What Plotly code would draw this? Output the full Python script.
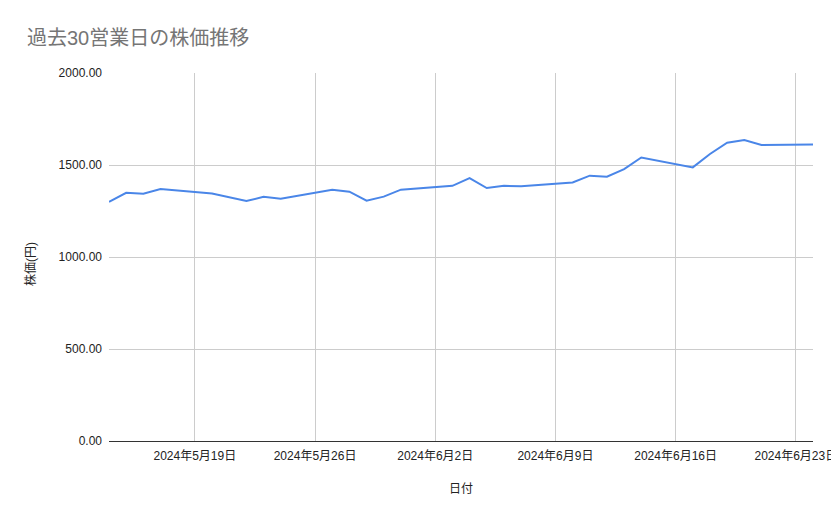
import plotly.graph_objects as go

# 30 business days, 2024-05-14 .. 2024-06-24
dates = [
    "2024-05-14", "2024-05-15", "2024-05-16", "2024-05-17",
    "2024-05-20", "2024-05-21", "2024-05-22", "2024-05-23", "2024-05-24",
    "2024-05-27", "2024-05-28", "2024-05-29", "2024-05-30", "2024-05-31",
    "2024-06-03", "2024-06-04", "2024-06-05", "2024-06-06", "2024-06-07",
    "2024-06-10", "2024-06-11", "2024-06-12", "2024-06-13", "2024-06-14",
    "2024-06-17", "2024-06-18", "2024-06-19", "2024-06-20", "2024-06-21",
    "2024-06-24",
]
prices = [
    1300, 1349, 1344, 1369,
    1345, 1325, 1304, 1327, 1317,
    1366, 1355, 1306, 1328, 1366,
    1387, 1429, 1375, 1387, 1384,
    1405, 1442, 1436, 1478, 1541,
    1487, 1560, 1621, 1636, 1609,
    1612,
]

title_text = "過去30営業日の株価推移"
x_title = "日付"
y_title = "株価(円)"

font_family = "Arial, 'Liberation Sans', 'Noto Sans CJK JP', sans-serif"

fig = go.Figure()

fig.add_trace(go.Scatter(
    x=dates,
    y=prices,
    mode="lines",
    line=dict(color="#4a86e8", width=2),
    showlegend=False,
))

# y axis title sits a little below the middle, so put it in by hand
fig.add_annotation(
    text=y_title,
    xref="paper", x=(30 - 109) / 704, xanchor="center",
    yref="paper", y=(441 - 264) / 368, yanchor="middle",
    textangle=-90,
    showarrow=False,
    font=dict(size=12, color="#222222"),
)

# page has an 8px body margin, so the figure is a bit smaller
fig.update_layout(
    template="none",
    width=831,
    height=511,
    margin=dict(l=101, r=26, t=65, b=78, pad=0),
    paper_bgcolor="white",
    plot_bgcolor="white",
    font=dict(family=font_family, color="#222222", size=12),
    title=dict(
        text=title_text,
        font=dict(family=font_family, size=20, color="#757575"),
        xref="container", x=19 / 831, xanchor="left",
        yref="container", y=1 - 30 / 511, yanchor="middle",
    ),
    xaxis=dict(
        type="date",
        range=["2024-05-14", "2024-06-24"],
        tick0="2024-05-19",
        dtick=7 * 24 * 3600 * 1000,
        tickformat="%Y年%-m月%-d日",
        showgrid=True,
        gridcolor="#cccccc",
        gridwidth=1,
        showline=True,
        linecolor="#333333",
        linewidth=1,
        ticks="",
        ticklabelstandoff=4,
        tickfont=dict(size=12, color="#222222"),
        title=dict(text=x_title, font=dict(size=12, color="#222222"), standoff=22),
        zeroline=False,
    ),
    yaxis=dict(
        range=[0, 2000],
        dtick=500,
        tickformat=".2f",
        showgrid=True,
        gridcolor="#cccccc",
        gridwidth=1,
        showline=False,
        ticks="",
        ticklabelstandoff=6,
        zeroline=False,
        tickfont=dict(size=12, color="#222222"),
    ),
)

fig.write_html("out.html")
